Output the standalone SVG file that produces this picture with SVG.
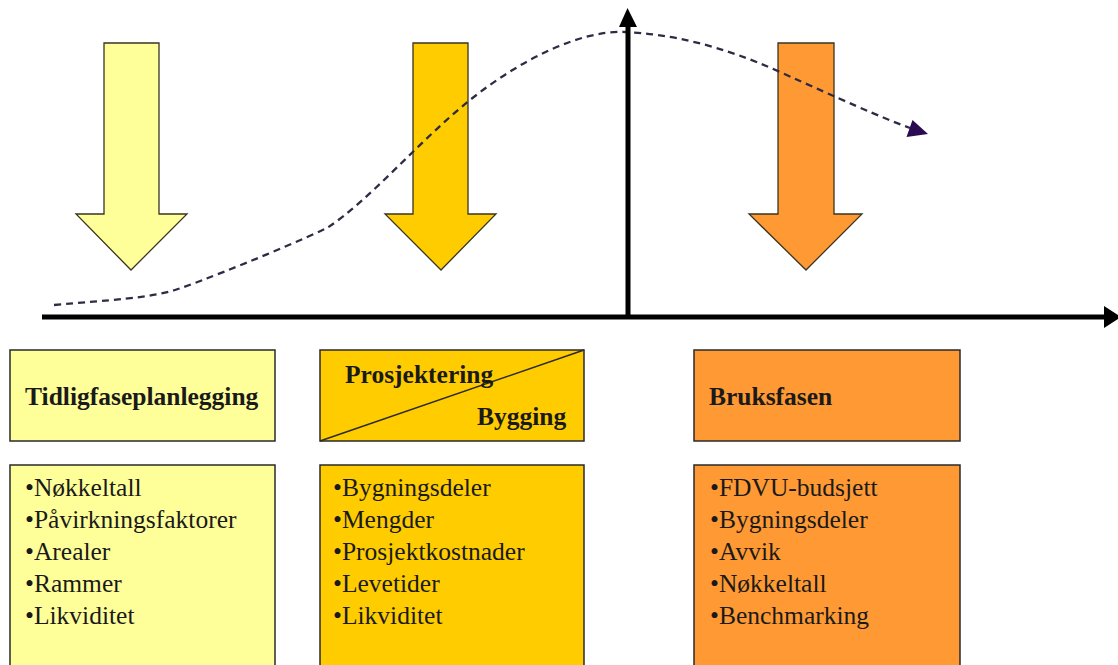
<svg xmlns="http://www.w3.org/2000/svg" width="1118" height="665" viewBox="0 0 1118 665">
<style>
.t1{fill:#ffff99}
.t2{fill:#ffcc00}
.t3{fill:#ff9933}
.arr{stroke:#3a3520;stroke-width:1.3;stroke-linejoin:miter}
.box{stroke:#2a2a2a;stroke-width:1.5}
.head{font-family:"Liberation Serif","Times New Roman",serif;font-weight:bold;font-size:25.5px;fill:#1a1a1a}
.item{font-family:"Liberation Serif","Times New Roman",serif;font-size:25.5px;fill:#1a1a1a}
.axis{stroke:#000;stroke-width:5;fill:none}
.curve{stroke:#2e2c45;stroke-width:2.3;fill:none;stroke-dasharray:7 5}
</style>
<rect width="1118" height="665" fill="#ffffff"/>

<g id="arrow-early">
<polygon class="t1 arr" points="104,43 159,43 159,214 187,214 131,270 76,214 104,214"/>
</g>
<g id="arrow-build">
<polygon class="t2 arr" points="413,43 468,43 468,214 496,214 441,270 385,214 413,214"/>
</g>
<g id="arrow-use">
<polygon class="t3 arr" points="778,43 834,43 834,214 862,214 806,270 749,214 778,214"/>
</g>

<g id="connectors">
<path class="curve" d="M54,305 C110,300 150,298 175,290 S280,250 327,228 C370,200 420,140 470,100 S580,30 625,32 S720,45 780,72 S880,117 910,128"/>
<polygon points="912.5,120 928,134 906.5,137" fill="#2a0a50"/>
<line class="axis" x1="42" y1="317" x2="1106" y2="317"/>
<polygon points="1104,306 1121,317 1104,328" fill="#000"/>
<line class="axis" x1="628" y1="319" x2="628" y2="24"/>
<polygon points="619,27 627.5,8 637,27" fill="#000"/>
</g>

<g id="head-early">
<rect class="t1 box" x="10" y="350" width="265" height="91"/>
<text class="head" x="25" y="405">Tidligfaseplanlegging</text>
</g>
<g id="head-build">
<rect class="t2 box" x="320" y="350" width="264" height="91"/>
<line x1="320" y1="441" x2="584" y2="350" stroke="#2a2a2a" stroke-width="1.5"/>
<text class="head" x="345" y="383">Prosjektering</text>
<text class="head" x="477" y="425">Bygging</text>
</g>
<g id="head-use">
<rect class="t3 box" x="694" y="350" width="266" height="91"/>
<text class="head" x="709" y="405">Bruksfasen</text>
</g>

<g id="list-early">
<rect class="t1 box" x="10" y="465" width="265" height="210"/>
<text class="item" x="25" y="496">•Nøkkeltall</text>
<text class="item" x="25" y="528">•Påvirkningsfaktorer</text>
<text class="item" x="25" y="560">•Arealer</text>
<text class="item" x="25" y="592">•Rammer</text>
<text class="item" x="25" y="624">•Likviditet</text>
</g>
<g id="list-build">
<rect class="t2 box" x="320" y="465" width="264" height="210"/>
<text class="item" x="333" y="496">•Bygningsdeler</text>
<text class="item" x="333" y="528">•Mengder</text>
<text class="item" x="333" y="560">•Prosjektkostnader</text>
<text class="item" x="333" y="592">•Levetider</text>
<text class="item" x="333" y="624">•Likviditet</text>
</g>
<g id="list-use">
<rect class="t3 box" x="694" y="465" width="266" height="210"/>
<text class="item" x="710" y="496">•FDVU-budsjett</text>
<text class="item" x="710" y="528">•Bygningsdeler</text>
<text class="item" x="710" y="560">•Avvik</text>
<text class="item" x="710" y="592">•Nøkkeltall</text>
<text class="item" x="710" y="624">•Benchmarking</text>
</g>
</svg>
